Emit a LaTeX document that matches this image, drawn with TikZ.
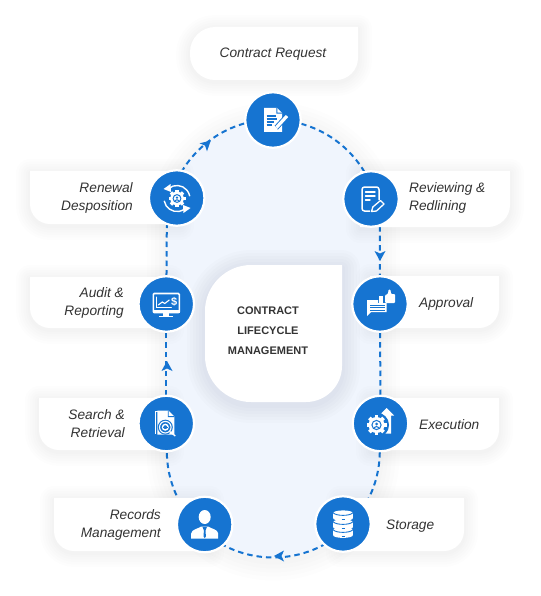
\documentclass[tikz,border=0pt]{standalone}
\usepackage{fontspec}
\setmainfont{Liberation Sans}
\definecolor{bluemain}{HTML}{1674D1}
\definecolor{loopfill}{HTML}{F0F5FD}
\definecolor{inktext}{HTML}{333333}
\pgfdeclarelayer{back}\pgfdeclarelayer{conn}
\pgfsetlayers{back,conn,main}
\tikzset{
  iconnode/.style={circle,fill=bluemain,draw=white,line width=2.2pt,minimum size=55.5pt,inner sep=0pt},
  labeltext/.style={text=inktext,font=\fontsize{13.7}{18}\selectfont\itshape,inner sep=0pt},
  labelright/.style={labeltext,align=right,anchor=east},
  labelleft/.style={labeltext,align=left,anchor=west},
  centertext/.style={text=inktext,font=\fontsize{11}{20}\selectfont\bfseries,align=center,inner sep=0pt},
  looplink/.style={draw=bluemain,line width=2pt,dash pattern=on 5.5pt off 4pt},
  wl/.style={white,line width=1.6pt,line cap=round},
  bl/.style={bluemain,line width=1pt},
}
% #1 options, #2..#5 x1 y1 x2 y2, #6..#9 radii tl tr br bl
\newcommand\cardshape[9]{%
 \path[#1] ({#2+#6},#3) -- ({#4-#7},#3) .. controls ({#4-.45*#7},#3) and (#4,{#3+.45*#7}) .. (#4,{#3+#7})
  -- (#4,{#5-#8}) .. controls (#4,{#5-.45*#8}) and ({#4-.45*#8},#5) .. ({#4-#8},#5)
  -- ({#2+#9},#5) .. controls ({#2+.45*#9},#5) and (#2,{#5-.45*#9}) .. (#2,{#5-#9})
  -- (#2,{#3+#6}) .. controls (#2,{#3+.45*#6}) and ({#2+.45*#6},#3) .. ({#2+#6},#3) -- cycle;}
\newcommand\softcard[8]{%
 \foreach \w in {28,23,18,13,8,4}{\cardshape{draw=black,line width=\w pt,opacity=.006,line join=round,shift={(0,2)}}{#1}{#2}{#3}{#4}{#5}{#6}{#7}{#8}}%
 \cardshape{fill=white}{#1}{#2}{#3}{#4}{#5}{#6}{#7}{#8}}
\newcommand\tipmark[3]{\fill[bluemain,shift={(#1,#2)},rotate=#3] (5,0) -- (-5,-5.5) -- (-2.5,0) -- (-5,5.5) -- cycle;}
\newcommand\gearicon[3]{%
 \begin{scope}[shift={(#1,#2)},scale=#3]
 \fill[white] (0,0) circle (8);
 \foreach \a in {0,45,...,315}{\fill[white,rotate=\a] (-1.9,-10) rectangle (1.9,0);}
 \draw[bluemain,line width=1pt] (0,0) circle (4.6);
 \fill[bluemain] (0,-1) circle (1.5);
 \draw[bluemain,line width=1pt] (-2.6,2.8) .. controls (-1.5,1) and (1.5,1) .. (2.6,2.8);
 \end{scope}}
\begin{document}
\begin{tikzpicture}[x=1pt,y=-1pt]
\useasboundingbox (0,0) rectangle (540,596);
\begin{pgfonlayer}{back}
\fill[white] (0,0) rectangle (540,596);
\foreach \w in {40,32,24,16,8}{\draw[black!70!blue,line width=\w pt,opacity=.007,shift={(0,3)}] (166.8,226) arc[start angle=180,end angle=360,radius=106.5] -- (379.8,451) arc[start angle=0,end angle=180,radius=106.5] -- cycle;}
\fill[loopfill] (166.8,226) arc[start angle=180,end angle=360,radius=106.5] -- (379.8,451) arc[start angle=0,end angle=180,radius=106.5] -- cycle;
\end{pgfonlayer}
% cards
\softcard{190}{27}{358}{80}{25}{0}{22}{25}
\softcard{30}{171}{180}{224}{0}{0}{0}{20}
\softcard{360}{171}{510}{227}{0}{0}{22}{0}
\softcard{30}{277}{170}{328}{0}{0}{0}{20}
\softcard{370}{276}{499}{328}{0}{0}{20}{0}
\softcard{39}{398}{170}{450}{0}{0}{0}{20}
\softcard{370}{398}{499}{450}{0}{0}{20}{0}
\softcard{54}{498}{210}{551}{0}{0}{0}{20}
\softcard{340}{498}{464}{551}{0}{0}{20}{0}
% center card
\foreach \w in {36,30,24,18,12,6}{\cardshape{draw=black!70!blue,line width=\w pt,opacity=.012,line join=round,shift={(0,3)}}{205}{265}{342}{402}{46}{0}{36}{46}}
\cardshape{fill=white}{205}{265}{342}{402}{46}{0}{36}{46}
% text
\node[labeltext] (t1) at (273,54) {Contract Request};
\node[labelright] (t2) at (133,198) {Renewal\\Desposition};
\node[labelleft] (t3) at (409,198) {Reviewing \&\\Redlining};
\node[labelright] (t4) at (124,303) {Audit \&\\Reporting};
\node[labelleft] (t5) at (419,304) {Approval};
\node[labelright] (t6) at (125,424) {Search \&\\Retrieval};
\node[labelleft] (t7) at (419,425) {Execution};
\node[labelright] (t8) at (161,525) {Records\\Management};
\node[labelleft] (t9) at (386,526) {Storage};
\node[centertext] (t0) at (268,331) {CONTRACT\\LIFECYCLE\\MANAGEMENT};
% icon circles
\node[iconnode] (top) at (273,120) {};
\node[iconnode] (renewal) at (176.7,198) {};
\node[iconnode] (review) at (371,199) {};
\node[iconnode] (audit) at (166.3,304) {};
\node[iconnode] (approval) at (380,304) {};
\node[iconnode] (search) at (166.3,423.5) {};
\node[iconnode] (execution) at (380.5,423.5) {};
\node[iconnode] (records) at (204.7,524.5) {};
\node[iconnode] (storage) at (343,524) {};
% icon: contract request
\begin{scope}[shift={(273,120)}]
 \fill[white] (-9,-12) -- (4,-12) -- (9,-7) -- (9,12) -- (-9,12) -- cycle;
 \fill[bluemain] (3.4,-12) -- (3.4,-6.4) -- (9,-6.4) -- (9,-7.4) -- (4.4,-7.4) -- (4.4,-12) -- cycle;
 \foreach \y/\l in {-4/3,-1/4,2/1,5/-1}{\draw[bl,line width=1.2pt] (-6.5,\y) -- (\l,\y);}
 \draw[bluemain,line width=5pt] (3,8) -- (13.5,-3.5);
 \draw[white,line width=3.2pt] (3.5,7.5) -- (14,-4);
 \fill[white] (-0.5,11) -- (1,5.5) -- (5,9) -- cycle;
\end{scope}
% icon: reviewing
\begin{scope}[shift={(371,199)}]
 \draw[white,line width=1.5pt,rounded corners=2.5pt] (-1,12) -- (-9,12) -- (-9,-12) -- (8,-12) -- (8,1);
 \foreach \y/\l in {-7/4,-3/4,1/-1}{\draw[wl,line width=1.4pt] (-5.5,\y) -- (\l,\y);}
 \draw[white,line width=1.3pt,line join=round] (0.5,12.5) -- (1.8,8) -- (9.5,1.5) -- (13,5) -- (5.5,12) -- cycle;
\end{scope}
% icon: approval
\begin{scope}[shift={(380,304)}]
 \fill[white] (-13,-4) -- (-2,-4) -- (-2,-1) -- (6.5,-1) -- (6.5,8) -- (-9,8) -- (-13,12) -- cycle;
 \foreach \y in {1,3.5,6}{\draw[bl,line width=.9pt] (-10,\y) -- (4.5,\y);}
 \fill[white] (-1,-8) rectangle (3,-.9);
 \fill[white,rounded corners=1pt] (5,-9) -- (8,-10) -- (8.5,-14.5) -- (10.5,-14.5) -- (11,-10) -- (15,-10) -- (15,-1) -- (5,-1) -- cycle;
\end{scope}
% icon: execution
\begin{scope}[shift={(380.5,423.5)}]
 \fill[white] (6,-15.5) -- (13.5,-8) -- (10.5,-8) -- (10.5,10) -- (3,10) -- (3,-8) -- (-1.5,-8) -- cycle;
\end{scope}
\fill[bluemain] (376.5,425) circle (12.5);
\gearicon{376.5}{425}{1}
% icon: storage
\begin{scope}[shift={(343,524)}]
 \foreach \y in {-7.5,1.5,9.5}{
  \fill[white] (-9.8,\y-3.5) rectangle (9.8,\y+1.8);
  \fill[white] (0,\y-3.5) ellipse (9.8 and 2.6);
  \fill[white] (0,\y+1.8) ellipse (9.8 and 2.6);
  \draw[bluemain,line width=.9pt] (-9.8,\y-3.7) .. controls (-7,\y-.3) and (7,\y-.3) .. (9.8,\y-3.7);
 }
 \draw[bl] (-1.5,4.2) -- (1.5,4.2);
 \draw[bl] (-1.5,12.2) -- (1.5,12.2);
 \draw[bl] (-1.5,-4.8) -- (1.5,-4.8);
\end{scope}
% icon: records
\begin{scope}[shift={(204.7,524.5)}]
 \fill[white] (0,-7.5) ellipse (6 and 7);
 \fill[white] (-13.5,14) -- (-13.5,9) .. controls (-13.5,5) and (-6,4) .. (-3.5,2) -- (3.5,2) .. controls (6,4) and (13.5,5) .. (13.5,9) -- (13.5,14) -- cycle;
 \fill[bluemain] (-2.2,2.5) -- (2.2,2.5) -- (.8,6) -- (1.2,12) -- (0,13.5) -- (-1.2,12) -- (-.8,6) -- cycle;
\end{scope}
% icon: search
\begin{scope}[shift={(166.3,423.5)}]
 \draw[white,line width=1pt] (-11,10.5) -- (-11,-12.5) -- (-8.5,-12.5);
 \fill[white] (-9,-13) -- (2,-13) -- (8,-7) -- (8,11) -- (-9,11) -- cycle;
 \fill[bluemain] (1.5,-13) -- (1.5,-6.5) -- (8,-6.5) -- (8,-7.4) -- (2.4,-7.4) -- (2.4,-13) -- cycle;
 \fill[bluemain] (-1,3.7) circle (7.5);
 \draw[white,line width=1.1pt] (-1,3.7) circle (5.8);
 \draw[white,line width=1.4pt] (-1,3.7) circle (2.8);
 \draw[bluemain,line width=.9pt] (-3.2,3.7) -- (1.2,3.7);
 \draw[white,line width=1.3pt] (3.3,8) -- (9,12.5);
\end{scope}
% icon: audit
\begin{scope}[shift={(166.3,304)}]
 \draw[white,line width=1.6pt,fill=bluemain,rounded corners=1pt] (-13,-10.5) rectangle (13,8.5);
 \fill[white] (-13.5,5.5) rectangle (13.5,9);
 \fill[white] (-3,9) rectangle (3,12);
 \fill[white] (-7,11.5) rectangle (7,13);
 \draw[wl,line width=1pt] (-10,-7) -- (-10,3.5) -- (5,3.5);
 \draw[wl,line width=1.1pt] (-8,1) -- (-4,-2) -- (-1.5,-.5) -- (3,-4);
 \node[text=white,font=\fontsize{11}{11}\selectfont\bfseries,inner sep=0pt] (dollar) at (8,-2.5) {\$};
\end{scope}
% icon: renewal
\gearicon{177}{198.5}{.85}
\begin{scope}[shift={(177,198.5)}]
 \draw[white,line width=1.4pt] (-8.4,-9.96) arc[start angle=230,end angle=350,radius=13];
 \draw[white,line width=1.4pt] (-12.8,2.3) arc[start angle=170,end angle=50,radius=13];
 \fill[white] (-13.5,-9.5) -- (-6.5,-14.5) -- (-6,-6.5) -- cycle;
 \fill[white] (13.5,9.5) -- (6.5,14.5) -- (6,6.5) -- cycle;
\end{scope}
% connectors
\begin{pgfonlayer}{conn}
 \coordinate (rtop) at (379.8,226);
 \coordinate (rbot) at (379.8,451);
 \coordinate (ltop) at (166.8,226);
 \coordinate (lbot) at (166.8,451);
 \draw[looplink] (top.center) arc[start angle=270,end angle=345,radius=106.5] -- (review.center);
 \draw[looplink] (review.center) -- (rtop) -- (approval.center);
 \draw[looplink] (approval.center) -- (execution.center);
 \draw[looplink] (execution.center) -- (rbot) arc[start angle=0,end angle=45,radius=106.5] -- (storage.center);
 \draw[looplink] (rbot) ++(-31.2,75.3) arc[start angle=45,end angle=135,radius=106.5] -- (records.center);
 \draw[looplink] (lbot) ++(31.2,75.3) arc[start angle=135,end angle=180,radius=106.5] -- (search.center);
 \draw[looplink] (search.center) -- (audit.center);
 \draw[looplink] (audit.center) -- (ltop) -- (renewal.center);
 \draw[looplink] (ltop) ++(3.6,-27.6) arc[start angle=195,end angle=270,radius=106.5] -- (top.center);
 \tipmark{207}{144}{42}
 \tipmark{380}{256}{-90}
 \tipmark{167}{366}{90}
 \tipmark{279}{556}{180}
\end{pgfonlayer}
\end{tikzpicture}
\end{document}
